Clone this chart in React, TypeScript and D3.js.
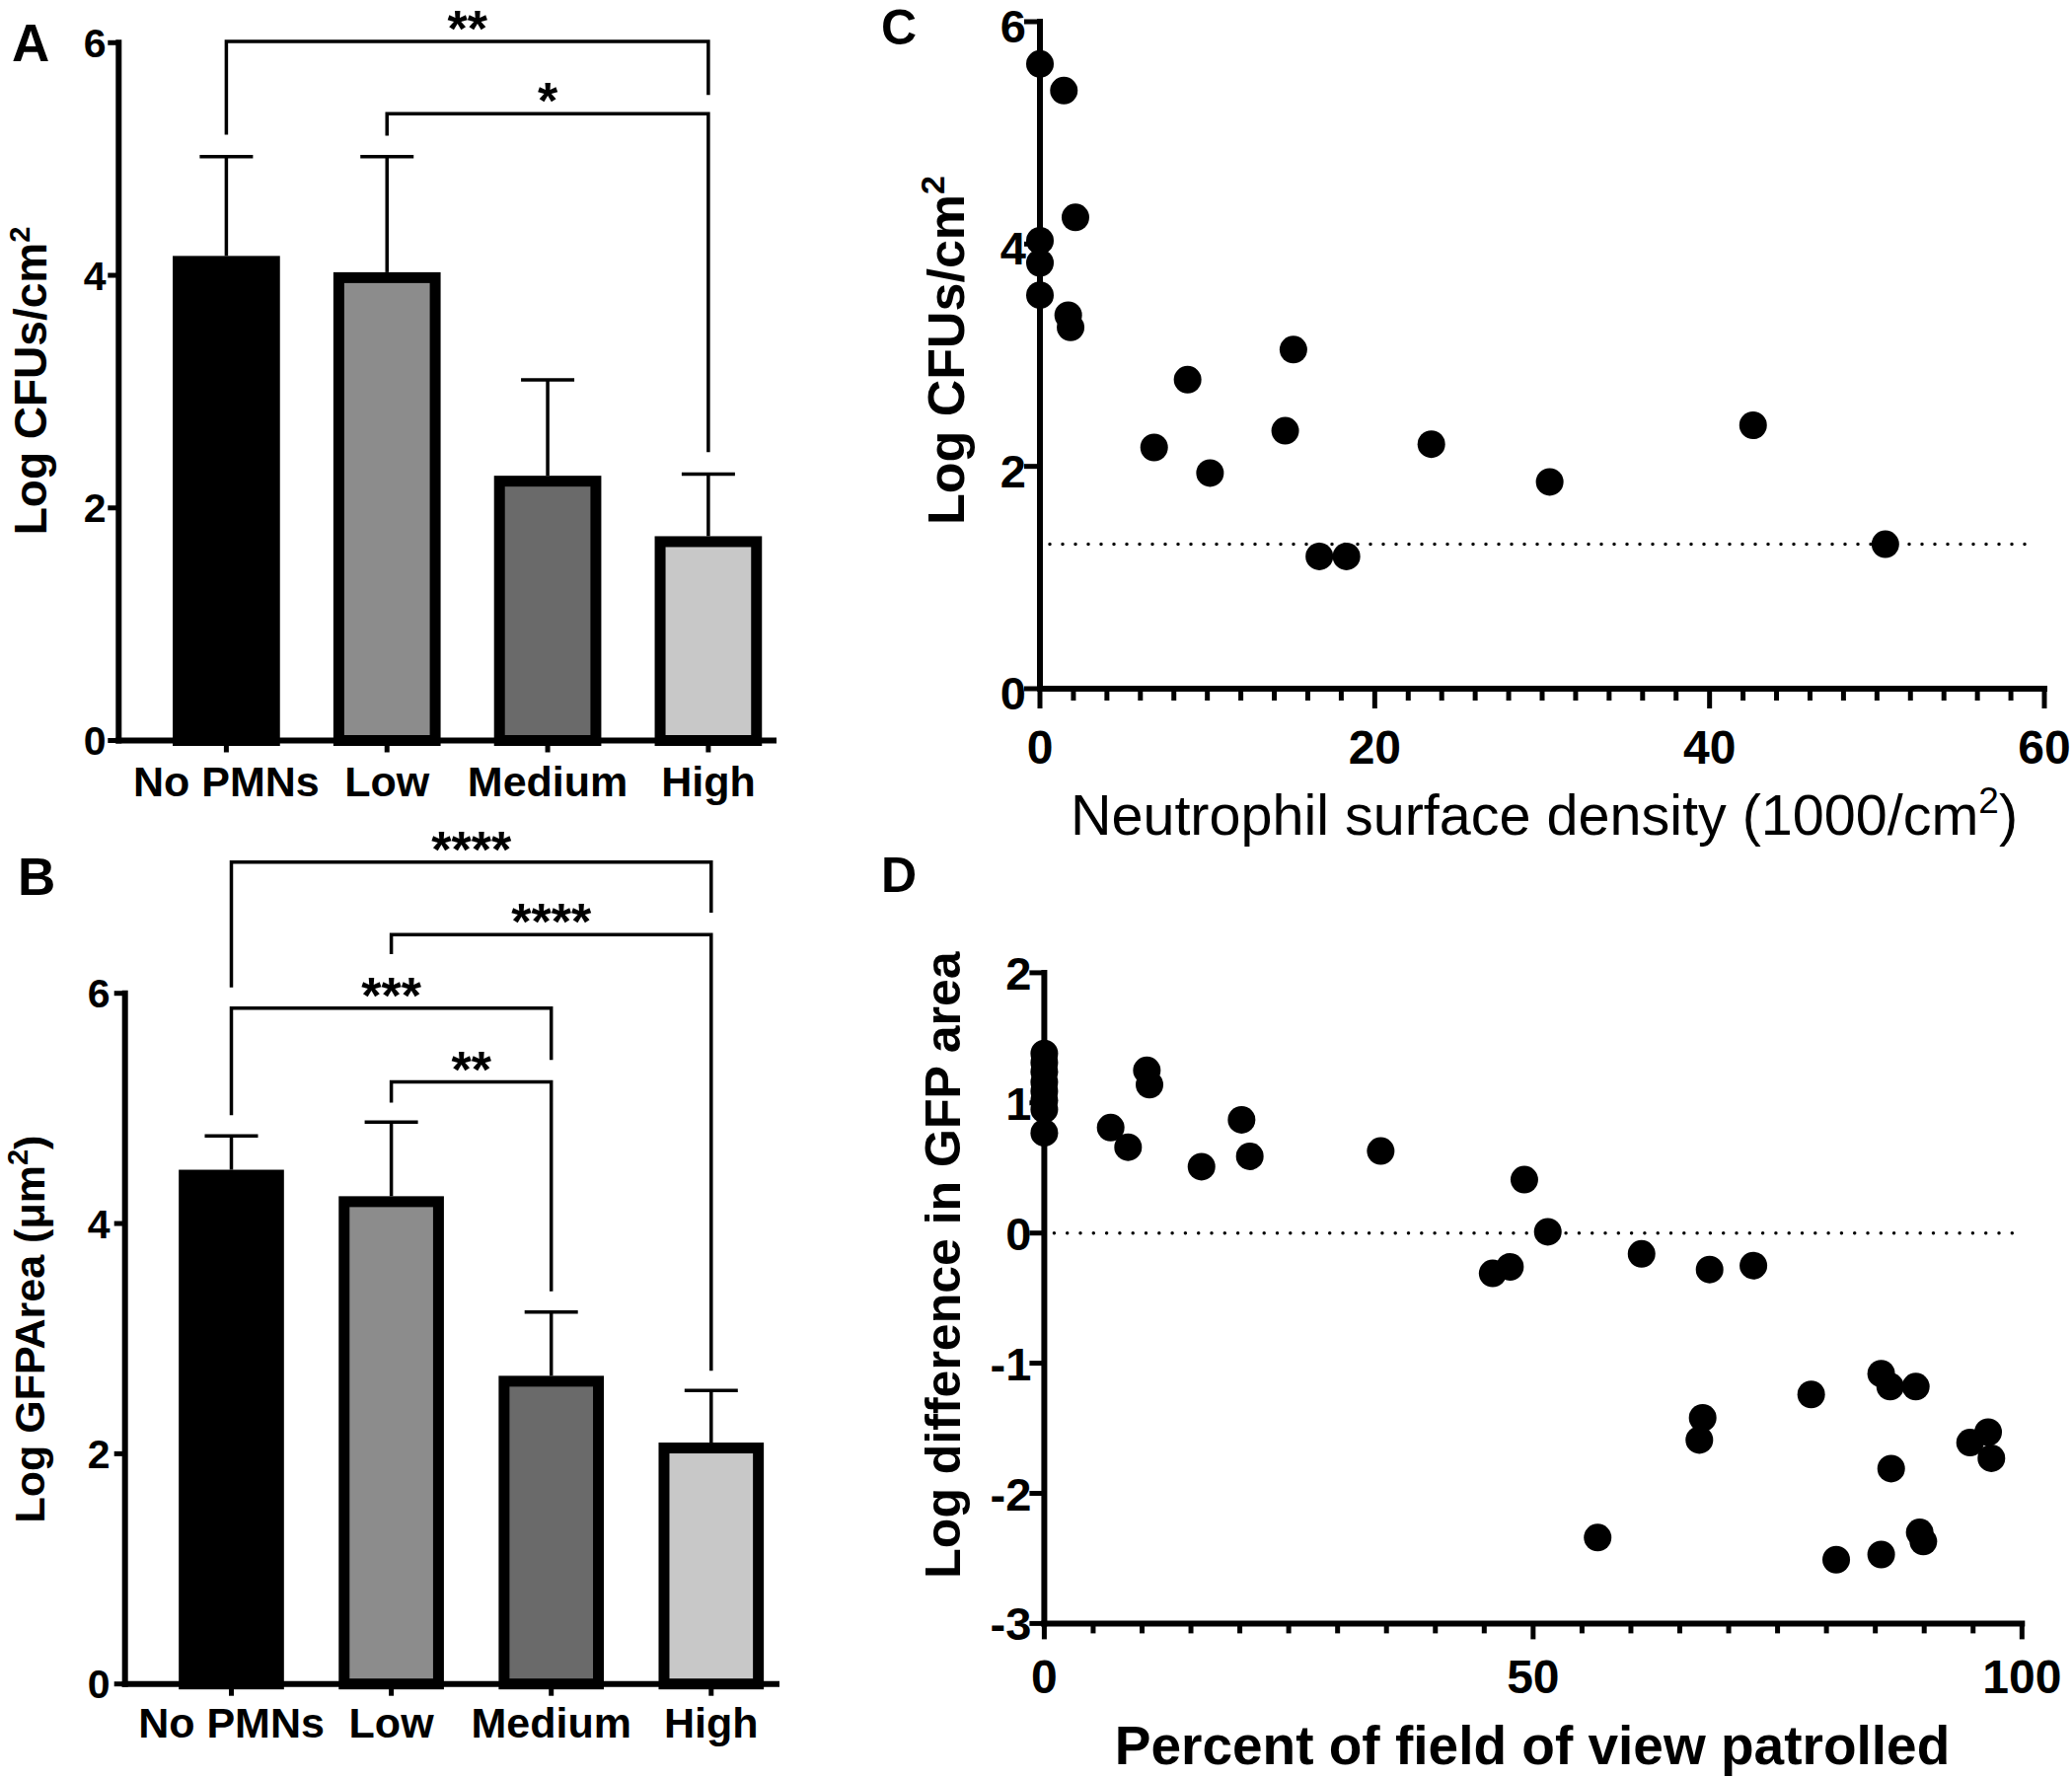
import React from 'react';
import * as d3 from 'd3';

const FONT = '"Liberation Sans", Arial, Helvetica, sans-serif';

// ---------- Panels A & B (bar charts) ----------
const categories = ['No PMNs', 'Low', 'Medium', 'High'];
const barFills = ['#000000', '#8c8c8c', '#6a6a6a', '#c8c8c8'];
const cfuMeans = [4.12, 3.98, 2.23, 1.71];
const cfuErrTop = [5.02, 5.02, 3.1, 2.29];
const gfpMeans = [4.42, 4.19, 2.63, 2.05];
const gfpErrTop = [4.76, 4.88, 3.23, 2.55];
const barTicks = [0, 2, 4, 6];

type Comp = { from: number; to: number; y: number; left: number; right: number; label: string };
const cfuComparisons: Comp[] = [
  { from: 0, to: 3, y: 6.01, left: 5.21, right: 5.55, label: '**' },
  { from: 1, to: 3, y: 5.39, left: 5.2, right: 2.48, label: '*' },
];
const gfpComparisons: Comp[] = [
  { from: 0, to: 3, y: 7.14, left: 6.05, right: 6.7, label: '****' },
  { from: 1, to: 3, y: 6.51, left: 6.34, right: 2.72, label: '****' },
  { from: 0, to: 2, y: 5.87, left: 4.94, right: 5.42, label: '***' },
  { from: 1, to: 2, y: 5.23, left: 5.05, right: 3.41, label: '**' },
];

// ---------- Panel C (scatter) ----------
const densityX = [0, 1.43, 2.12, 0, 0, 0, 1.69, 1.83, 15.14, 8.82, 14.65, 6.82, 10.16, 23.38, 30.45, 42.6, 16.69, 18.31, 50.5];
const densityY = [5.62, 5.38, 4.24, 4.03, 3.83, 3.54, 3.36, 3.25, 3.05, 2.78, 2.32, 2.17, 1.94, 2.2, 1.86, 2.37, 1.19, 1.19, 1.3];
const densityLimit = 1.3;
const cYTicks = [0, 2, 4, 6];
const cXMajor = [0, 20, 40, 60];

// ---------- Panel D (scatter) ----------
const patrolX = [
  0, 0, 0, 0, 0, 0, 0, 0,
  6.79, 8.57, 10.49, 10.76, 16.08, 20.18, 21.02, 34.41,
  49.1, 51.5, 45.86, 47.63, 61.09, 68.05, 72.53,
  56.6, 67.34, 67.0, 78.44, 85.6, 86.52, 89.14, 86.62, 94.69, 96.54, 96.87,
  81.0, 85.6, 89.54, 89.91,
];
const patrolY = [
  1.38, 1.31, 1.24, 1.16, 1.09, 1.02, 0.95, 0.77,
  0.81, 0.66, 1.25, 1.14, 0.51, 0.87, 0.59, 0.63,
  0.41, 0.01, -0.31, -0.26, -0.16, -0.28, -0.25,
  -2.34, -1.42, -1.59, -1.24, -1.08, -1.18, -1.18, -1.81, -1.61, -1.53, -1.73,
  -2.51, -2.47, -2.3, -2.37,
];
const dYTicks = [-3, -2, -1, 0, 1, 2];
const dXMajor = [0, 50, 100];

const AX = 6; // axis stroke
const LW = 3.5; // thin line width

type BarProps = {
  means: number[];
  errTop: number[];
  comps: Comp[];
  y0: number;
  y6: number;
  axisX: number;
  axisEnd: number;
  bandEnd: number;
  padIn: number;
  padOut: number;
  tickLabelX: number;
  catBaseline: number;
  label: React.ReactNode;
  labelSize: number;
  labelBaseX: number;
  labelCenterY: number;
  letter: string;
  letterX: number;
  letterY: number;
};

function BarPanel(p: BarProps) {
  const y = d3.scaleLinear().domain([0, 6]).range([p.y0, p.y6]);
  const x = d3
    .scaleBand<string>()
    .domain(categories)
    .range([p.axisX, p.bandEnd])
    .paddingInner(p.padIn)
    .paddingOuter(p.padOut);
  const bw = x.bandwidth();
  const cx = (i: number) => (x(categories[i]) as number) + bw / 2;
  const SW = 11;
  return (
    <g>
      {categories.map((c, i) => (
        <rect
          key={c}
          x={x(c) as number}
          y={y(p.means[i])}
          width={bw}
          height={y(0) - y(p.means[i])}
          fill={barFills[i]}
          stroke="#000"
          strokeWidth={SW}
        />
      ))}
      {categories.map((c, i) => (
        <g key={'e' + c} stroke="#000" strokeWidth={LW}>
          <line x1={cx(i)} x2={cx(i)} y1={y(p.means[i]) - SW / 2} y2={y(p.errTop[i])} />
          <line x1={cx(i) - 27} x2={cx(i) + 27} y1={y(p.errTop[i])} y2={y(p.errTop[i])} />
        </g>
      ))}
      {p.comps.map((cp, k) => {
        const xl = cx(cp.from);
        const xr = cx(cp.to);
        return (
          <g key={'c' + k}>
            <path
              d={`M${xl},${y(cp.left)}V${y(cp.y)}H${xr}V${y(cp.right)}`}
              fill="none"
              stroke="#000"
              strokeWidth={LW}
            />
            <text
              x={(xl + xr) / 2}
              y={y(cp.y) + 5}
              textAnchor="middle"
              fontFamily={FONT}
              fontWeight="bold"
              fontSize={52}
            >
              {cp.label}
            </text>
          </g>
        );
      })}
      <line x1={p.axisX} x2={p.axisX} y1={y(0) + AX / 2} y2={y(6) - AX / 2} stroke="#000" strokeWidth={AX} />
      {barTicks.map((t) => (
        <g key={'t' + t}>
          <line x1={p.axisX - 11} x2={p.axisX} y1={y(t)} y2={y(t)} stroke="#000" strokeWidth={5} />
          <text
            x={p.tickLabelX}
            y={y(t) + 14.7}
            textAnchor="end"
            fontFamily={FONT}
            fontWeight="bold"
            fontSize={41}
          >
            {t}
          </text>
        </g>
      ))}
      <line x1={p.axisX - AX / 2} x2={p.axisEnd} y1={y(0)} y2={y(0)} stroke="#000" strokeWidth={AX} />
      {categories.map((c, i) => (
        <g key={'x' + c}>
          <line x1={cx(i)} x2={cx(i)} y1={y(0)} y2={y(0) + 12} stroke="#000" strokeWidth={5} />
          <text
            x={cx(i)}
            y={p.catBaseline}
            textAnchor="middle"
            fontFamily={FONT}
            fontWeight="bold"
            fontSize={43}
          >
            {c}
          </text>
        </g>
      ))}
      <text
        transform={`translate(${p.labelBaseX},${p.labelCenterY}) rotate(-90)`}
        textAnchor="middle"
        fontFamily={FONT}
        fontWeight="bold"
        fontSize={p.labelSize}
      >
        {p.label}
      </text>
      <text x={p.letterX} y={p.letterY} fontFamily={FONT} fontWeight="bold" fontSize={53}>
        {p.letter}
      </text>
    </g>
  );
}

function PanelC() {
  const x = d3.scaleLinear().domain([0, 60]).range([1054, 2072]);
  const y = d3.scaleLinear().domain([0, 6]).range([698, 22]);
  const minor = d3.range(0, 61, 2).filter((v) => v % 20 !== 0);
  return (
    <g>
      <line
        x1={x(0) + 10}
        x2={x(59.5)}
        y1={y(densityLimit)}
        y2={y(densityLimit)}
        stroke="#000"
        strokeWidth={3.5}
        strokeLinecap="round"
        strokeDasharray="0 13"
      />
      <line x1={x(0)} x2={x(0)} y1={y(0) + AX / 2} y2={y(6) - AX / 2} stroke="#000" strokeWidth={AX} />
      <line x1={x(0) - AX / 2} x2={x(60) + AX / 2} y1={y(0)} y2={y(0)} stroke="#000" strokeWidth={AX} />
      {cYTicks.map((t) => (
        <g key={'cy' + t}>
          <line x1={x(0) - 16} x2={x(0)} y1={y(t)} y2={y(t)} stroke="#000" strokeWidth={5} />
          <text x={x(0) - 14} y={y(t) + 21} textAnchor="end" fontFamily={FONT} fontWeight="bold" fontSize={47}>
            {t}
          </text>
        </g>
      ))}
      {minor.map((t) => (
        <line key={'cm' + t} x1={x(t)} x2={x(t)} y1={y(0)} y2={y(0) + 12} stroke="#000" strokeWidth={5} />
      ))}
      {cXMajor.map((t) => (
        <g key={'cx' + t}>
          <line x1={x(t)} x2={x(t)} y1={y(0)} y2={y(0) + 20} stroke="#000" strokeWidth={5} />
          <text x={x(t)} y={774} textAnchor="middle" fontFamily={FONT} fontWeight="bold" fontSize={48}>
            {t}
          </text>
        </g>
      ))}
      {densityX.map((dx, i) => (
        <circle key={'cp' + i} cx={x(dx)} cy={y(densityY[i])} r={14} fill="#000" />
      ))}
      <text x={1565} y={846} textAnchor="middle" fontFamily={FONT} fontSize={57.5}>
        Neutrophil surface density (1000/cm
        <tspan dy={-22} fontSize={37}>
          2
        </tspan>
        <tspan dy={22}>)</tspan>
      </text>
      <text
        transform={`translate(977,355) rotate(-90)`}
        textAnchor="middle"
        fontFamily={FONT}
        fontWeight="bold"
        fontSize={52}
      >
        Log CFUs/cm
        <tspan dy={-20} fontSize={34}>
          2
        </tspan>
      </text>
      <text x={893} y={45} fontFamily={FONT} fontWeight="bold" fontSize={50}>
        C
      </text>
    </g>
  );
}

function PanelD() {
  const x = d3.scaleLinear().domain([0, 100]).range([1058.4, 2049.3]);
  const y = d3.scaleLinear().domain([-3, 2]).range([1645.4, 985.9]);
  const minor = d3.range(0, 101, 5).filter((v) => v % 50 !== 0);
  return (
    <g>
      <line
        x1={x(0) + 10}
        x2={x(99.2)}
        y1={y(0)}
        y2={y(0)}
        stroke="#000"
        strokeWidth={3.5}
        strokeLinecap="round"
        strokeDasharray="0 13.3"
      />
      <line x1={x(0)} x2={x(0)} y1={y(-3) + AX / 2} y2={y(2) - AX / 2} stroke="#000" strokeWidth={AX} />
      <line x1={x(0) - AX / 2} x2={x(100) + AX / 2} y1={y(-3)} y2={y(-3)} stroke="#000" strokeWidth={AX} />
      {dYTicks.map((t) => (
        <g key={'dy' + t}>
          <line x1={x(0) - 15} x2={x(0)} y1={y(t)} y2={y(t)} stroke="#000" strokeWidth={5} />
          <text x={x(0) - 13} y={y(t) + 17} textAnchor="end" fontFamily={FONT} fontWeight="bold" fontSize={47}>
            {t}
          </text>
        </g>
      ))}
      {minor.map((t) => (
        <line key={'dm' + t} x1={x(t)} x2={x(t)} y1={y(-3)} y2={y(-3) + 10} stroke="#000" strokeWidth={5} />
      ))}
      {dXMajor.map((t) => (
        <g key={'dx' + t}>
          <line x1={x(t)} x2={x(t)} y1={y(-3)} y2={y(-3) + 16} stroke="#000" strokeWidth={5} />
          <text x={x(t)} y={1716} textAnchor="middle" fontFamily={FONT} fontWeight="bold" fontSize={48}>
            {t}
          </text>
        </g>
      ))}
      {patrolX.map((px, i) => (
        <circle key={'dp' + i} cx={x(px)} cy={y(patrolY[i])} r={14} fill="#000" />
      ))}
      <text x={1553} y={1788} textAnchor="middle" fontFamily={FONT} fontWeight="bold" fontSize={55}>
        Percent of field of view patrolled
      </text>
      <text
        transform={`translate(973,1282) rotate(-90)`}
        textAnchor="middle"
        fontFamily={FONT}
        fontWeight="bold"
        fontSize={50}
      >
        Log difference in GFP area
      </text>
      <text x={893} y={904} fontFamily={FONT} fontWeight="bold" fontSize={50}>
        D
      </text>
    </g>
  );
}

export default function App() {
  return (
    <div style={{ position: 'absolute', left: 0, top: 0, width: 2100, height: 1802, background: '#fff' }}>
      <svg width={2100} height={1802} viewBox="0 0 2100 1802" style={{ display: 'block' }}>
        <rect x={0} y={0} width={2100} height={1802} fill="#fff" />
        <BarPanel
          means={cfuMeans}
          errTop={cfuErrTop}
          comps={cfuComparisons}
          y0={750.5}
          y6={43.3}
          axisX={120.3}
          axisEnd={787}
          bandEnd={827}
          padIn={0.4}
          padOut={0.37}
          tickLabelX={107.5}
          catBaseline={806.7}
          label={
            <>
              Log CFUs/cm
              <tspan dy={-17} fontSize={29}>
                2
              </tspan>
            </>
          }
          labelSize={46}
          labelBaseX={47}
          labelCenterY={386}
          letter="A"
          letterX={12}
          letterY={61.7}
        />
        <BarPanel
          means={gfpMeans}
          errTop={gfpErrTop}
          comps={gfpComparisons}
          y0={1706.7}
          y6={1006.7}
          axisX={126.7}
          axisEnd={790}
          bandEnd={828.6}
          padIn={0.41}
          padOut={0.37}
          tickLabelX={111.5}
          catBaseline={1761}
          label={
            <>
              Log GFPArea (μm
              <tspan dy={-17} fontSize={29}>
                2
              </tspan>
              <tspan dy={17}>)</tspan>
            </>
          }
          labelSize={43}
          labelBaseX={45}
          labelCenterY={1347}
          letter="B"
          letterX={18}
          letterY={907}
        />
        <PanelC />
        <PanelD />
      </svg>
    </div>
  );
}
